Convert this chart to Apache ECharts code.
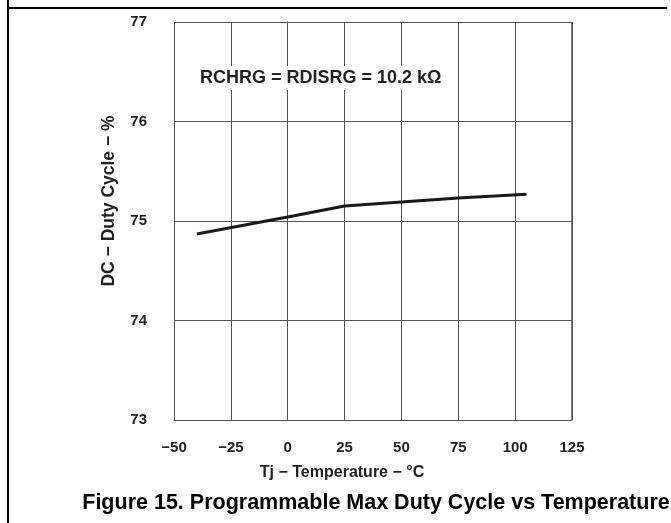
<!DOCTYPE html>
<html>
<head>
<meta charset="utf-8">
<script src="https://cdn.jsdelivr.net/npm/echarts@6/dist/echarts.min.js"></script>
<style>
    html, body { margin: 0; padding: 0; background: #fff; }
    #chart { width: 671px; height: 523px; }
</style>
</head>
<body>
<div id="chart"></div>
<script>
// data
var temps = [-40, 0, 25, 50, 75, 105];
var dutyCycle = [74.87, 75.04, 75.15, 75.19, 75.23, 75.27];
var xTicks = [-50, 125, 25];   // min, max, step
var yTicks = [73, 77, 1];

var myChart = echarts.init(document.querySelector("#chart"));

var points = temps.map(function (t, i) { return [t, dutyCycle[i]]; });
var font = 'Liberation Sans, Arial, sans-serif';

var option = {
    backgroundColor: '#fff',
    animation: false,
    title: {
        text: 'Figure 15. Programmable Max Duty Cycle vs Temperature',
        left: 371,
        textAlign: 'center',
        top: 487,
        textStyle: {
            color: '#000',
            fontSize: 21.5,
            fontWeight: 'bold',
            fontFamily: font
        }
    },
    grid: {
        left: 174,
        right: 99,
        top: 22,
        bottom: 103
    },
    xAxis: {
        type: 'value',
        min: xTicks[0],
        max: xTicks[1],
        interval: xTicks[2],
        name: 'Tj \u2212 Temperature \u2212 \u00B0C',
        nameLocation: 'middle',
        nameGap: 45,
        nameTextStyle: {
            color: '#222',
            fontSize: 16,
            fontWeight: 'bold',
            fontFamily: font,
            padding: [0, 62, 0, 0]
        },
        axisLine: { show: true, lineStyle: { color: '#555', width: 1 } },
        axisTick: { show: false },
        axisLabel: {
            color: '#222',
            fontSize: 15,
            fontWeight: 'bold',
            fontFamily: font,
            margin: 20,
            formatter: function (v) { return String(v).replace('-', '\u2212'); }
        },
        splitLine: { show: true, lineStyle: { color: '#555', width: 1 } }
    },
    yAxis: {
        type: 'value',
        min: yTicks[0],
        max: yTicks[1],
        interval: yTicks[2],
        name: 'DC \u2212 Duty Cycle \u2212 %',
        nameLocation: 'middle',
        nameGap: 56,
        nameTextStyle: {
            color: '#222',
            fontSize: 17.5,
            fontWeight: 'bold',
            fontFamily: font,
            padding: [0, 0, 0, 40]
        },
        axisLine: { show: true, lineStyle: { color: '#555', width: 1 } },
        axisTick: { show: false },
        axisLabel: {
            color: '#222',
            fontSize: 15,
            fontWeight: 'bold',
            fontFamily: font,
            margin: 27
        },
        splitLine: { show: true, lineStyle: { color: '#555', width: 1 } }
    },
    graphic: [
        // page frame
        { type: 'line', shape: { x1: 8, y1: 0, x2: 8, y2: 523 }, style: { stroke: '#000', lineWidth: 2 } },
        { type: 'line', shape: { x1: 8, y1: 8, x2: 667, y2: 8 }, style: { stroke: '#000', lineWidth: 2 } },
        // plot right border
        { type: 'line', shape: { x1: 572, y1: 22, x2: 572, y2: 420 }, style: { stroke: '#555', lineWidth: 1.5 } },
        {
            type: 'text',
            left: 196,
            top: 66,
            z: 10,
            style: {
                text: 'RCHRG = RDISRG = 10.2 k\u03A9',
                fill: '#222',
                font: 'bold 18px Liberation Sans, Arial, sans-serif',
                backgroundColor: '#fff',
                padding: [3, 4, 3, 4]
            }
        }
    ],
    series: [{
        type: 'line',
        data: points,
        showSymbol: false,
        lineStyle: {
            width: 3,
            color: '#1a1a1a'
        },
        itemStyle: { color: '#1a1a1a' }
    }]
};
myChart.setOption(option);
</script>
</body>
</html>
